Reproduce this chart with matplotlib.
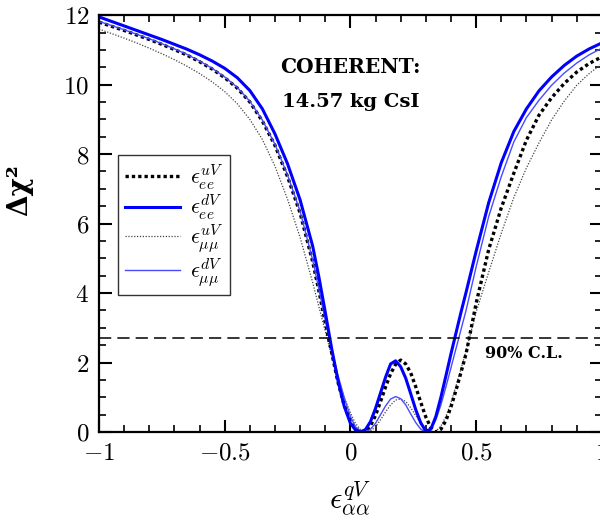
import matplotlib
matplotlib.use('Agg')
import matplotlib.pyplot as plt
from matplotlib.ticker import MultipleLocator

plt.rcParams['mathtext.fontset'] = 'cm'
plt.rcParams['font.family'] = 'serif'
plt.rcParams['font.serif'] = ['DejaVu Serif']

# epsilon grid (shared by all four curves)
eps = [-1.0, -0.95, -0.9, -0.85, -0.8, -0.75, -0.7, -0.65, -0.6, -0.55,
       -0.5, -0.45, -0.4, -0.35, -0.3, -0.25, -0.2, -0.15, -0.125, -0.1,
       -0.075, -0.05, -0.025, 0.0, 0.02, 0.04, 0.06, 0.08, 0.10, 0.12,
       0.14, 0.16, 0.18, 0.20, 0.22, 0.24, 0.26, 0.28, 0.30, 0.32,
       0.34, 0.36, 0.38, 0.40, 0.42, 0.44, 0.46, 0.50, 0.55, 0.60,
       0.65, 0.70, 0.75, 0.80, 0.85, 0.90, 0.95, 1.0]

# Delta chi^2
chi_ee_u = [11.80, 11.68, 11.56, 11.43, 11.30, 11.16, 11.01, 10.85, 10.66, 10.45,
            10.20, 9.90, 9.50, 8.95, 8.25, 7.35, 6.30, 4.90, 4.05, 3.15,
            2.30, 1.45, 0.78, 0.32, 0.10, 0.01, 0.02, 0.18, 0.48, 0.88,
            1.30, 1.68, 1.95, 2.07, 1.96, 1.70, 1.30, 0.85, 0.43, 0.13,
            0.00, 0.08, 0.33, 0.72, 1.20, 1.72, 2.25, 3.70, 5.25, 6.45,
            7.45, 8.40, 9.12, 9.62, 10.03, 10.36, 10.61, 10.80]
chi_ee_d = [11.95, 11.82, 11.69, 11.56, 11.43, 11.30, 11.16, 11.02, 10.86, 10.68,
            10.47, 10.20, 9.83, 9.30, 8.58, 7.72, 6.68, 5.35, 4.45, 3.45,
            2.42, 1.50, 0.75, 0.25, 0.06, 0.00, 0.07, 0.30, 0.68, 1.13,
            1.58, 1.96, 2.05, 1.88, 1.55, 1.10, 0.64, 0.26, 0.03, 0.08,
            0.45, 1.00, 1.62, 2.25, 2.85, 3.45, 4.02, 5.20, 6.60, 7.75,
            8.65, 9.30, 9.82, 10.22, 10.55, 10.82, 11.03, 11.20]
chi_mm_u = [11.60, 11.47, 11.34, 11.20, 11.05, 10.89, 10.72, 10.53, 10.32, 10.08,
            9.80, 9.45, 9.00, 8.42, 7.65, 6.70, 5.60, 4.30, 3.60, 2.90,
            2.20, 1.55, 1.00, 0.55, 0.25, 0.07, 0.00, 0.03, 0.15, 0.35,
            0.58, 0.78, 0.92, 0.95, 0.88, 0.70, 0.47, 0.25, 0.09, 0.01,
            0.02, 0.17, 0.45, 0.85, 1.32, 1.82, 2.33, 3.45, 4.60, 5.72,
            6.75, 7.60, 8.32, 8.98, 9.52, 9.98, 10.32, 10.60]
chi_mm_d = [11.82, 11.70, 11.58, 11.45, 11.32, 11.18, 11.03, 10.87, 10.68, 10.47,
            10.22, 9.92, 9.52, 8.98, 8.28, 7.40, 6.35, 4.95, 4.10, 3.22,
            2.40, 1.65, 1.00, 0.45, 0.15, 0.02, 0.00, 0.08, 0.25, 0.50,
            0.75, 0.95, 1.02, 0.96, 0.78, 0.52, 0.27, 0.08, 0.00, 0.08,
            0.35, 0.78, 1.30, 1.85, 2.40, 2.95, 3.50, 4.75, 6.20, 7.35,
            8.35, 9.05, 9.55, 9.98, 10.33, 10.62, 10.86, 11.05]

labels = [r'$\epsilon_{ee}^{uV}$', r'$\epsilon_{ee}^{dV}$',
          r'$\epsilon_{\mu\mu}^{uV}$', r'$\epsilon_{\mu\mu}^{dV}$']
cl90 = 2.71

xticks = [-1, -0.5, 0, 0.5, 1]
xticklabels = [r'$-1$', r'$-0.5$', r'$0$', r'$0.5$', r'$1$']
yticks = [0, 2, 4, 6, 8, 10, 12]
yticklabels = [r'$0$', r'$2$', r'$4$', r'$6$', r'$8$', r'$10$', r'$12$']

fig = plt.figure(figsize=(6, 5.23), dpi=100)
ax = fig.add_axes([0.165, 0.174, 0.838, 0.797])

ax.plot(eps, chi_mm_u, color='#444444', lw=0.9, ls=(0, (1, 1.3)), label=labels[2])
ax.plot(eps, chi_ee_u, color='black', lw=2.4, ls=(0, (1, 0.9)), label=labels[0])
ax.plot(eps, chi_mm_d, color='#4a4aff', lw=1.0, label=labels[3])
ax.plot(eps, chi_ee_d, color='#0000ff', lw=2.2, label=labels[1])
ax.axhline(cl90, color='black', lw=1.1, ls=(0, (8, 4)))

ax.set_xlim(-1, 1)
ax.set_ylim(0, 12)
ax.set_xticks(xticks)
ax.set_xticklabels(xticklabels)
ax.set_yticks(yticks)
ax.set_yticklabels(yticklabels)
ax.xaxis.set_minor_locator(MultipleLocator(0.1))
ax.yaxis.set_minor_locator(MultipleLocator(0.5))
ax.tick_params(which='both', direction='in', top=True, right=True, labelsize=18)
ax.tick_params(which='major', length=9, width=1.5, pad=7)
ax.tick_params(which='minor', length=5, width=1.2)
for s in ax.spines.values():
    s.set_linewidth(1.6)

ax.set_xlabel(r'$\epsilon_{\alpha\alpha}^{qV}$', fontsize=22)
ax.xaxis.set_label_coords(0.5, -0.115)
ax.set_ylabel('Δχ²', fontsize=20, fontweight='bold', family='DejaVu Serif')
ax.yaxis.set_label_coords(-0.13, 0.58)

ax.text(0.0, 10.5, 'COHERENT:', fontsize=14.5, fontweight='bold',
        family='DejaVu Serif', ha='center', va='center')
ax.text(0.0, 9.5, '14.57 kg CsI', fontsize=14, fontweight='bold',
        family='DejaVu Serif', ha='center', va='center')
ax.text(0.69, 2.27, '90% C.L.', fontsize=11.5, fontweight='bold',
        family='DejaVu Serif', ha='center', va='center')

h, l = ax.get_legend_handles_labels()
order = [1, 3, 0, 2]
leg = ax.legend([h[i] for i in order], [l[i] for i in order],
                loc='upper left', bbox_to_anchor=(0.038, 0.664), fontsize=16,
                frameon=True, fancybox=False, edgecolor='black',
                handlelength=2.5, labelspacing=0.05, borderpad=0.3,
                handletextpad=0.45, borderaxespad=0)
leg.get_frame().set_linewidth(1.0)

plt.savefig('out.png', dpi=100)
